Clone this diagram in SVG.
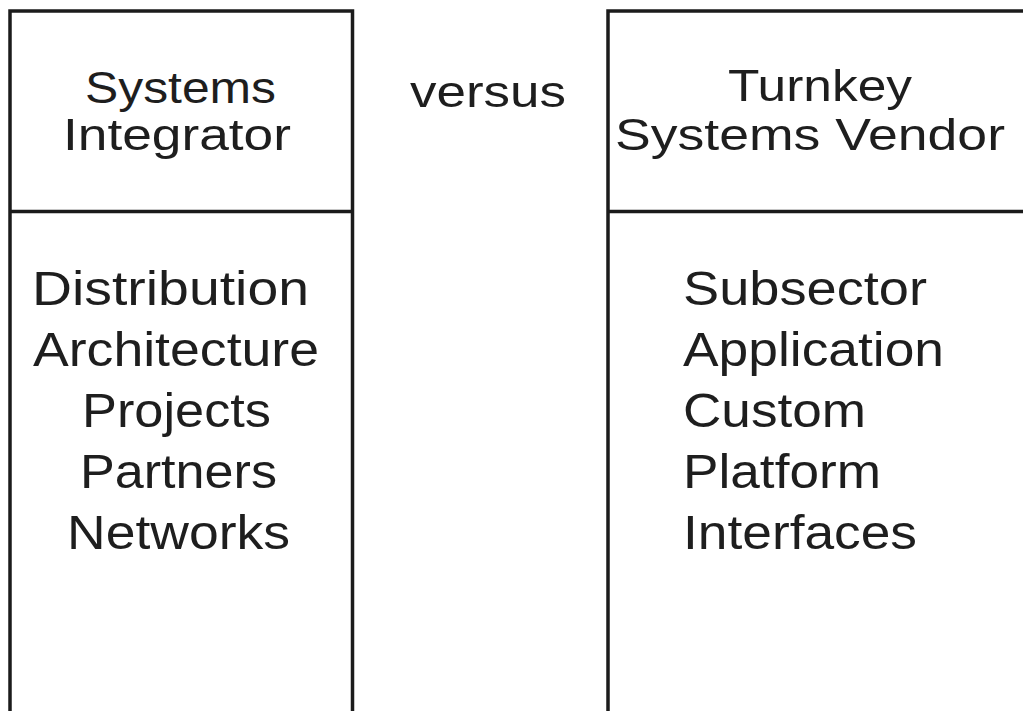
<svg xmlns="http://www.w3.org/2000/svg" width="1023" height="711" viewBox="0 0 1023 711">
  <style>
    .frame { fill: none; stroke: #1b1b1b; stroke-width: 3.5; }
    .head { font-family: "Liberation Sans", Arial, sans-serif; font-size: 45px; fill: #1e1e1e; }
    .item { font-family: "Liberation Sans", Arial, sans-serif; font-size: 48px; fill: #1e1e1e; }
  </style>
  <rect width="1023" height="711" fill="#ffffff"/>

  <!-- Left column: systems integrator -->
  <g id="systems-integrator">
    <path class="frame" d="M10 720 V11 H352.5 V720 M10 211.5 H352.5"/>
    <text class="head" x="85" y="103" textLength="191" lengthAdjust="spacingAndGlyphs">Systems</text>
    <text class="head" x="63" y="150" textLength="228" lengthAdjust="spacingAndGlyphs">Integrator</text>
    <text class="item" x="32" y="305" textLength="277" lengthAdjust="spacingAndGlyphs">Distribution</text>
    <text class="item" x="33" y="366" textLength="286" lengthAdjust="spacingAndGlyphs">Architecture</text>
    <text class="item" x="82" y="427" textLength="189" lengthAdjust="spacingAndGlyphs">Projects</text>
    <text class="item" x="80" y="488" textLength="197" lengthAdjust="spacingAndGlyphs">Partners</text>
    <text class="item" x="67" y="549" textLength="223" lengthAdjust="spacingAndGlyphs">Networks</text>
  </g>

  <!-- Comparison label between the columns -->
  <g id="versus">
    <text class="head" x="410" y="107" textLength="156" lengthAdjust="spacingAndGlyphs">versus</text>
  </g>

  <!-- Right column: turnkey systems vendor -->
  <g id="turnkey-vendor">
    <path class="frame" d="M608 720 V11 H1030 M608 211.5 H1030"/>
    <text class="head" x="728" y="101" textLength="184" lengthAdjust="spacingAndGlyphs">Turnkey</text>
    <text class="head" x="615" y="150" textLength="390" lengthAdjust="spacingAndGlyphs">Systems Vendor</text>
    <text class="item" x="683" y="305" textLength="244" lengthAdjust="spacingAndGlyphs">Subsector</text>
    <text class="item" x="683" y="366" textLength="261" lengthAdjust="spacingAndGlyphs">Application</text>
    <text class="item" x="683" y="427" textLength="183" lengthAdjust="spacingAndGlyphs">Custom</text>
    <text class="item" x="683" y="488" textLength="198" lengthAdjust="spacingAndGlyphs">Platform</text>
    <text class="item" x="683" y="549" textLength="234" lengthAdjust="spacingAndGlyphs">Interfaces</text>
  </g>

  <g id="connectors"></g>
</svg>
